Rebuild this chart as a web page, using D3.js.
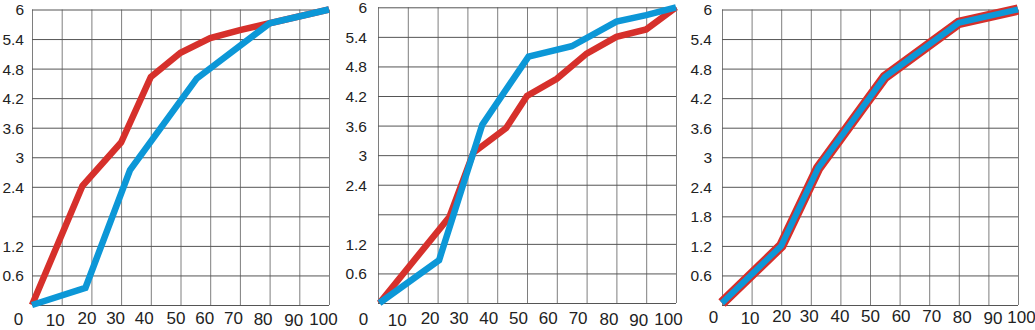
<!DOCTYPE html>
<html>
<head>
<meta charset="utf-8">
<script src="https://cdn.jsdelivr.net/npm/d3@7/dist/d3.min.js"></script>
<style>
  html, body { margin: 0; padding: 0; background: #fff; }
  svg { display: block; }
  .tick text { font-family: "Liberation Sans", Arial, sans-serif; fill: #222; }
</style>
</head>
<body>
<svg id="chart" width="1035" height="330"></svg>
<script>
// Shared axis values
const xTicks = [0, 10, 20, 30, 40, 50, 60, 70, 80, 90, 100];
const gridYValues = [0, 0.6, 1.2, 1.8, 2.4, 3, 3.6, 4.2, 4.8, 5.4, 6];
const yTicksShort = [0.6, 1.2, 2.4, 3, 3.6, 4.2, 4.8, 5.4, 6];
const yTicksFull = [0.6, 1.2, 1.8, 2.4, 3, 3.6, 4.2, 4.8, 5.4, 6];

// Panel 1 series
const p1RedX = [0, 17, 30, 40, 50, 60, 70, 80, 100];
const p1RedY = [0, 2.42, 3.3, 4.63, 5.12, 5.42, 5.58, 5.72, 6];
const p1BlueX = [0, 18, 33, 55.5, 80, 100];
const p1BlueY = [0, 0.35, 2.74, 4.6, 5.72, 6];

// Panel 2 series
const p2RedX = [0.5, 24, 32, 43, 50, 60, 70, 80, 90, 100];
const p2RedY = [0, 1.75, 3.05, 3.55, 4.2, 4.55, 5.06, 5.4, 5.55, 6];
const p2BlueX = [0.5, 20.5, 35, 50.5, 65, 80, 90, 100];
const p2BlueY = [0, 0.87, 3.62, 5.0, 5.21, 5.71, 5.84, 6];

// Panel 3 series
const p3RedX = [0, 20, 32.5, 55, 80, 100];
const p3RedY = [0.04, 1.2, 2.78, 4.63, 5.73, 6];
const p3BlueX = [0, 20, 32.5, 55, 80, 100];
const p3BlueY = [0.04, 1.2, 2.78, 4.63, 5.73, 6];

const RED = "#d6302b";
const BLUE = "#0c97d7";

// Small vertical stagger of the x tick labels (by tick index)
const xLabelDrop = [1, 2, 0, 0, 0, 0, 0, 0, 1, 2, 1];

const panels = [
  {
    box: { left: 32, right: 329, top: 9.5, bottom: 305 },
    yTicks: yTicksShort, yPad: 8, xBase: 324,
    xShift: [-14, -7, -5, -6, -7, -5, -6, -7, -7, -6, -6],
    series: [
      { xs: p1RedX, ys: p1RedY, color: RED, width: 6.5 },
      { xs: p1BlueX, ys: p1BlueY, color: BLUE, width: 6.5 }
    ]
  },
  {
    box: { left: 378, right: 676, top: 7.3, bottom: 303 },
    yTicks: yTicksShort, yPad: 11, xBase: 324,
    xShift: [-15, -11, -8, -9, -9, -9, -9, -9, -8, -8, -8],
    series: [
      { xs: p2RedX, ys: p2RedY, color: RED, width: 6.5 },
      { xs: p2BlueX, ys: p2BlueY, color: BLUE, width: 6.5 }
    ]
  },
  {
    box: { left: 722, right: 1018, top: 9.5, bottom: 305 },
    yTicks: yTicksFull, yPad: 10, xBase: 322,
    xShift: [-9, -2, 0, -2, -1, 0, 1, 2, 3, 4, 3],
    series: [
      { xs: p3RedX, ys: p3RedY, color: RED, width: 10.5 },
      { xs: p3BlueX, ys: p3BlueY, color: BLUE, width: 6 }
    ]
  }
];

const svg = d3.select("#chart");

panels.forEach(p => {
  const b = p.box;
  const x = d3.scaleLinear().domain([0, 100]).range([b.left, b.right]);
  const y = d3.scaleLinear().domain([0, 6]).range([b.bottom, b.top]);
  const g = svg.append("g");

  // vertical grid lines
  g.append("g")
    .attr("transform", `translate(0,${b.bottom})`)
    .call(d3.axisBottom(x).tickValues(xTicks).tickSize(-(b.bottom - b.top)).tickFormat(""))
    .call(s => s.select(".domain").remove())
    .call(s => s.selectAll(".tick line").attr("stroke", "#7e7e7e").attr("stroke-width", 1));

  // horizontal grid lines
  g.append("g")
    .attr("transform", `translate(${b.left},0)`)
    .call(d3.axisLeft(y).tickValues(gridYValues).tickSize(-(b.right - b.left)).tickFormat(""))
    .call(s => s.select(".domain").remove())
    .call(s => s.selectAll(".tick line").attr("stroke", "#555").attr("stroke-width", 1));

  // y tick labels
  g.append("g")
    .attr("transform", `translate(${b.left},0)`)
    .call(d3.axisLeft(y).tickValues(p.yTicks).tickSize(0).tickPadding(p.yPad).tickFormat(d => String(d)))
    .call(s => s.select(".domain").remove())
    .call(s => s.selectAll(".tick text").attr("font-size", 15.5).attr("dy", "0.35em"));

  // x tick labels
  g.append("g")
    .attr("transform", `translate(0,${b.bottom})`)
    .call(d3.axisBottom(x).tickValues(xTicks).tickSize(0).tickFormat(d => String(d)))
    .call(s => s.select(".domain").remove())
    .call(s => s.selectAll(".tick text")
      .attr("font-size", 17)
      .attr("dy", null)
      .attr("x", (d, i) => p.xShift[i])
      .attr("y", (d, i) => p.xBase - b.bottom + xLabelDrop[i]));

  // series lines
  const line = d3.line().x(d => x(d[0])).y(d => y(d[1]));
  p.series.forEach(s => {
    const pts = s.xs.map((v, i) => [v, s.ys[i]]);
    g.append("path")
      .datum(pts)
      .attr("d", line)
      .attr("fill", "none")
      .attr("stroke", s.color)
      .attr("stroke-width", s.width)
      .attr("stroke-linejoin", "miter");
  });
});
</script>
</body>
</html>
